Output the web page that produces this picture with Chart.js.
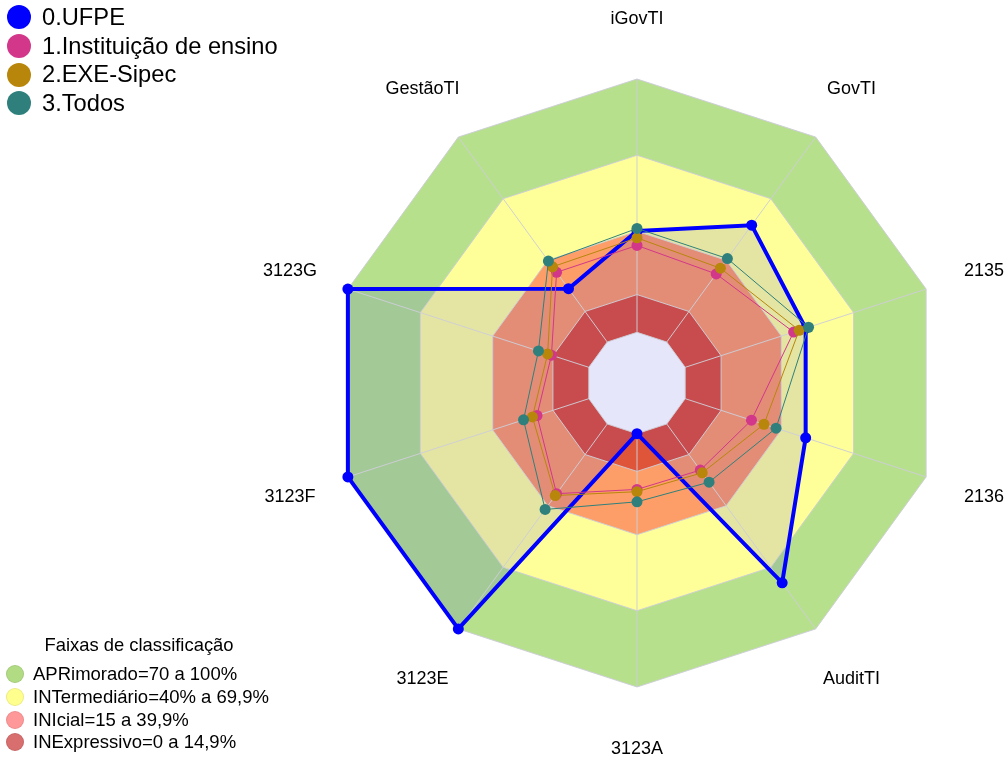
<!DOCTYPE html>
<html>
<head>
<meta charset="utf-8">
<script src="https://cdn.jsdelivr.net/npm/chart.js@4.4.1/dist/chart.umd.min.js"></script>
<style>
  body { margin: 0; background: #fff; font-family: "Liberation Sans", Arial, sans-serif; color: #000; }
  #wrap { position: relative; width: 1007px; height: 760px; overflow: hidden; }
  #radar { position: absolute; left: 0; top: 0; }
  #seriesLegend { position: absolute; left: 7px; top: 3px; font-size: 23.7px; }
  #seriesLegend .row { height: 28.7px; display: flex; align-items: center; white-space: nowrap; }
  #seriesLegend .dot { width: 24px; height: 24px; border-radius: 50%; margin-right: 11px; }
  #bandLegend { position: absolute; left: 0; top: 633px; width: 278px; font-size: 18.5px; }
  #bandLegend .title { height: 30px; line-height: 24px; text-align: center; font-size: 18.4px; }
  #bandLegend .row { height: 22.7px; display: flex; align-items: center; white-space: nowrap; padding-left: 6px; }
  #bandLegend .dot { width: 18px; height: 18px; border-radius: 50%; margin-right: 9px; box-sizing: border-box; }
</style>
</head>
<body>
<div id="wrap">
  <canvas id="radar" width="1007" height="760"></canvas>
  <div id="seriesLegend"></div>
  <div id="bandLegend"><div class="title">Faixas de classificação</div></div>
</div>
<script>
// eixos do radar
const axisLabels = ['iGovTI', 'GovTI', '2135', '2136', 'AuditTI', '3123A', '3123E', '3123F', '3123G', 'GestãoTI']

// valores (%)
const ufpe  = [40, 57, 50, 50, 77.5, 0, 100, 100, 100, 26]
const inst  = [34.3, 33.2, 45, 27.5, 22.5, 22, 34, 21.5, 15.5, 34]
const exe   = [37.3, 36, 47.3, 32.7, 23.8, 22.9, 34.9, 23.4, 17.1, 36.7]
const todos = [41, 40.7, 51.2, 37.7, 28.4, 26.9, 41.7, 27.1, 20.9, 39.5]

const seriesNames = ['0.UFPE', '1.Instituição de ensino', '2.EXE-Sipec', '3.Todos']
const seriesColors = ['#0000ff', '#d2378a', '#b8860b', '#2f807c']

// faixas de classificação (limite superior de cada faixa)
const bandLimits = [100, 69.9, 39.9, 14.9]
const bandFill = ['rgb(182,224,140)', 'rgb(255,255,153)', 'rgb(253,158,104)', 'rgb(223,85,57)']
const bandNames = ['APRimorado=70 a 100%', 'INTermediário=40% a 69,9%', 'INIcial=15 a 39,9%', 'INExpressivo=0 a 14,9%']
const bandLegendColors = ['#b2dc84', '#ffff8e', '#ff9898', '#d86e6e']
const holeValue = 0
const gridValues = [0, 14.9, 39.9, 69.9, 100]

const gridColor = 'rgba(205,205,215,0.95)'
const none = 'rgba(0,0,0,0)'

function constant(v) {
    return axisLabels.map(() => v)
}

function seriesDataset(values, color, width, fill) {
    return {
        data: values,
        borderColor: color,
        borderWidth: width,
        backgroundColor: fill || none,
        fill: fill ? 'start' : false,
        pointBackgroundColor: color,
        pointBorderWidth: 0,
        pointRadius: 5.5,
        clip: false
    }
}

function bandDataset(value, color) {
    return {
        data: constant(value),
        borderColor: none,
        borderWidth: 1,
        backgroundColor: color,
        fill: 'start',
        pointRadius: 0,
        clip: false
    }
}

// ordem: o primeiro fica por cima
const datasets = [
    bandDataset(holeValue, 'rgb(230,230,250)'),
    seriesDataset(todos, seriesColors[3], 1),
    seriesDataset(exe, seriesColors[2], 1),
    seriesDataset(inst, seriesColors[1], 1),
    seriesDataset(ufpe, seriesColors[0], 4, 'rgba(0,0,255,0.1)')
]
bandLimits.slice().reverse().forEach((v, i) => {
    datasets.push(bandDataset(v, bandFill[bandLimits.length - 1 - i]))
})

/**
 * Raios do radar, do centro vazio até a borda externa.
 */
const spokes = {
    id: 'spokes',
    beforeDatasetsDraw(chart) {
        const s = chart.scales.r
        const c = chart.ctx
        c.save()
        c.strokeStyle = gridColor
        c.lineWidth = 1
        axisLabels.forEach((_, i) => {
            const a = s.getPointPositionForValue(i, holeValue)
            const b = s.getPointPositionForValue(i, s.max)
            c.beginPath()
            c.moveTo(a.x, a.y)
            c.lineTo(b.x, b.y)
            c.stroke()
        })
        c.restore()
    }
}

/**
 * Rótulos dos eixos centrados a 1.2x o raio.
 */
const axisText = {
    id: 'axisText',
    afterDraw(chart) {
        const s = chart.scales.r
        const c = chart.ctx
        c.save()
        c.font = '18px "Liberation Sans", Arial, sans-serif'
        c.fillStyle = '#000'
        c.textAlign = 'center'
        c.textBaseline = 'middle'
        axisLabels.forEach((t, i) => {
            const p = s.getPointPosition(i, s.drawingArea * 1.2)
            c.fillText(t, p.x, p.y + 1)
        })
        c.restore()
    }
}

new Chart(document.querySelector('#radar'), {
    type: 'radar',
    data: { labels: axisLabels, datasets: datasets },
    options: {
        responsive: false,
        animation: false,
        elements: { line: { tension: 0 } },
        layout: { padding: { left: 317, right: 50, top: 79, bottom: 73 } },
        plugins: {
            legend: { display: false },
            tooltip: { enabled: false },
            filler: { drawTime: 'beforeDraw' }
        },
        scales: {
            r: {
                min: -20,
                max: 100,
                ticks: { display: false },
                pointLabels: { display: false },
                angleLines: { display: false },
                grid: { color: gridColor, lineWidth: 1 },
                afterBuildTicks: scale => {
                    scale.ticks = gridValues.map(v => ({ value: v }))
                }
            }
        }
    },
    plugins: [spokes, axisText]
})

// legendas
const seriesLegend = document.querySelector('#seriesLegend')
seriesNames.forEach((name, i) => {
    const row = document.createElement('div')
    row.className = 'row'
    row.innerHTML = '<span class="dot" style="background:' + seriesColors[i] + '"></span>' + name
    seriesLegend.appendChild(row)
})

const bandLegend = document.querySelector('#bandLegend')
bandNames.forEach((name, i) => {
    const row = document.createElement('div')
    row.className = 'row'
    row.innerHTML = '<span class="dot" style="background:' + bandLegendColors[i] + ';border:1px solid rgba(0,0,0,0.08)"></span>' + name
    bandLegend.appendChild(row)
})
</script>
</body>
</html>
